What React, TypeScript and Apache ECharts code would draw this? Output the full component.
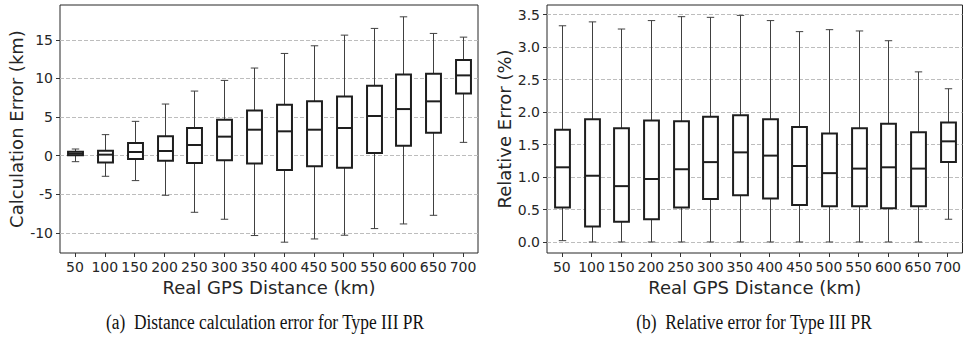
import React, { useEffect, useRef } from "react";
import * as echarts from "echarts";

const categories = ["50", "100", "150", "200", "250", "300", "350", "400", "450", "500", "550", "600", "650", "700"];

// [whiskerLow, q1, median, q3, whiskerHigh]
const calcErrorKm: number[][] = [
  [-0.78, 0.05, 0.26, 0.5, 0.86],
  [-2.67, -0.9, 0.13, 0.65, 2.72],
  [-3.23, -0.43, 0.47, 1.64, 4.44],
  [-5.13, -0.65, 0.6, 2.5, 6.68],
  [-7.33, -0.95, 1.38, 3.58, 8.36],
  [-8.23, -0.6, 2.46, 4.66, 9.74],
  [-10.34, -1.03, 3.36, 5.86, 11.34],
  [-11.2, -1.85, 3.15, 6.6, 13.23],
  [-10.78, -1.38, 3.36, 7.03, 14.22],
  [-10.3, -1.55, 3.58, 7.67, 15.6],
  [-9.44, 0.34, 5.13, 9.05, 16.47],
  [-8.84, 1.29, 6.03, 10.52, 17.97],
  [-7.72, 2.97, 7.03, 10.6, 15.82],
  [1.72, 8.06, 10.39, 12.37, 15.34],
];

const relErrorPct: number[][] = [
  [0.02, 0.53, 1.15, 1.73, 3.33],
  [0.0, 0.24, 1.02, 1.89, 3.39],
  [0.0, 0.31, 0.86, 1.75, 3.28],
  [0.0, 0.35, 0.97, 1.87, 3.41],
  [0.0, 0.53, 1.12, 1.86, 3.47],
  [0.0, 0.66, 1.23, 1.93, 3.46],
  [0.0, 0.72, 1.38, 1.95, 3.49],
  [0.0, 0.67, 1.33, 1.89, 3.41],
  [0.0, 0.57, 1.17, 1.77, 3.24],
  [0.0, 0.55, 1.06, 1.67, 3.27],
  [0.0, 0.55, 1.13, 1.75, 3.25],
  [0.0, 0.52, 1.15, 1.82, 3.1],
  [0.0, 0.55, 1.13, 1.69, 2.62],
  [0.35, 1.23, 1.55, 1.84, 2.36],
];

const leftTicks = [-10, -5, 0, 5, 10, 15];
const rightTicks = [0, 0.5, 1, 1.5, 2, 2.5, 3, 3.5];

const FONT = "DejaVu Sans";
const TEXT = "#262626";

function renderBox(params: any, api: any) {
  const i = api.value(0);
  const low = api.coord([i, api.value(1)]);
  const q1 = api.coord([i, api.value(2)]);
  const med = api.coord([i, api.value(3)]);
  const q3 = api.coord([i, api.value(4)]);
  const high = api.coord([i, api.value(5)]);
  const bw = api.size([1, 0])[0] * 0.5;
  const cw = bw * 0.5;
  const cx = Math.round(low[0]) + 0.5;
  const thin = { stroke: "#404040", lineWidth: 1, fill: null };
  const thick = { stroke: "#1e1e1e", lineWidth: 2, fill: null };
  return {
    type: "group",
    children: [
      { type: "line", shape: { x1: cx, y1: high[1], x2: cx, y2: q3[1] }, style: thin },
      { type: "line", shape: { x1: cx, y1: q1[1], x2: cx, y2: low[1] }, style: thin },
      { type: "line", shape: { x1: cx - cw / 2, y1: high[1], x2: cx + cw / 2, y2: high[1] }, style: thin },
      { type: "line", shape: { x1: cx - cw / 2, y1: low[1], x2: cx + cw / 2, y2: low[1] }, style: thin },
      { type: "rect", shape: { x: cx - bw / 2, y: q3[1], width: bw, height: q1[1] - q3[1] }, style: { ...thick, fill: "#ffffff" } },
      { type: "line", shape: { x1: cx - bw / 2, y1: med[1], x2: cx + bw / 2, y2: med[1] }, style: thick },
    ],
  };
}

function toData(rows: number[][]) {
  return rows.map((r, i) => [i, ...r]);
}

function makeYAxis(gridIndex: number, min: number, max: number, ticks: number[], name: string, nameGap: number, fmt: (v: number) => string) {
  return {
    type: "value",
    gridIndex,
    min,
    max,
    name,
    nameLocation: "middle",
    nameGap,
    nameTextStyle: { fontFamily: FONT, fontSize: 18, color: TEXT },
    axisLine: { show: false, onZero: false },
    axisTick: { show: true, length: 4, customValues: ticks, lineStyle: { color: "#333" } },
    axisLabel: { customValues: ticks, fontFamily: FONT, fontSize: 14, color: TEXT, margin: 7, formatter: fmt },
    splitLine: { show: true, lineStyle: { color: "#bdbdbd", type: [4, 2], width: 1 } },
  };
}

function makeXAxis(gridIndex: number) {
  return {
    type: "category",
    gridIndex,
    data: categories,
    boundaryGap: true,
    name: "Real GPS Distance (km)",
    nameLocation: "middle",
    nameGap: 24,
    nameTextStyle: { fontFamily: FONT, fontSize: 18, color: TEXT },
    axisLine: { show: false, onZero: false },
    axisTick: { show: true, alignWithLabel: true, length: 4, lineStyle: { color: "#333" } },
    axisLabel: { fontFamily: FONT, fontSize: 14, color: TEXT, margin: 7, interval: 0 },
    splitLine: { show: false },
  };
}

function caption(x: number, text: string) {
  return {
    type: "text",
    x,
    y: 322,
    scaleX: 0.87,
    style: {
      text,
      fontFamily: "Liberation Serif",
      fontSize: 20,
      fill: "#111",
      align: "center",
      verticalAlign: "middle",
    },
  };
}

export default function App() {
  const ref = useRef<HTMLDivElement>(null);
  useEffect(() => {
    if (!ref.current) return;
    const chart = echarts.init(ref.current, null, { renderer: "svg" });
    chart.setOption({
      animation: false,
      backgroundColor: "#ffffff",
      grid: [
        { left: 60, width: 418, top: 5, height: 248, show: true, borderColor: "#262626", borderWidth: 1, backgroundColor: "transparent" },
        { left: 547, width: 416, top: 5, height: 248, show: true, borderColor: "#262626", borderWidth: 1, backgroundColor: "transparent" },
      ],
      xAxis: [makeXAxis(0), makeXAxis(1)],
      yAxis: [
        makeYAxis(0, -12.6, 19.5, leftTicks, "Calculation Error (km)", 35, (v: number) => String(v)),
        makeYAxis(1, -0.17, 3.65, rightTicks, "Relative Error (%)", 33, (v: number) => v.toFixed(1)),
      ],
      series: [
        {
          type: "custom",
          xAxisIndex: 0,
          yAxisIndex: 0,
          renderItem: renderBox,
          encode: { x: 0, y: [1, 2, 3, 4, 5] },
          data: toData(calcErrorKm),
          z: 5,
        },
        {
          type: "custom",
          xAxisIndex: 1,
          yAxisIndex: 1,
          renderItem: renderBox,
          encode: { x: 0, y: [1, 2, 3, 4, 5] },
          data: toData(relErrorPct),
          z: 5,
        },
      ],
      graphic: [
        caption(265, "(a)  Distance calculation error for Type III PR"),
        caption(754, "(b)  Relative error for Type III PR"),
      ],
    });
    return () => chart.dispose();
  }, []);
  return <div ref={ref} style={{ position: "fixed", left: 0, top: 0, width: 964, height: 337 }} />;
}
